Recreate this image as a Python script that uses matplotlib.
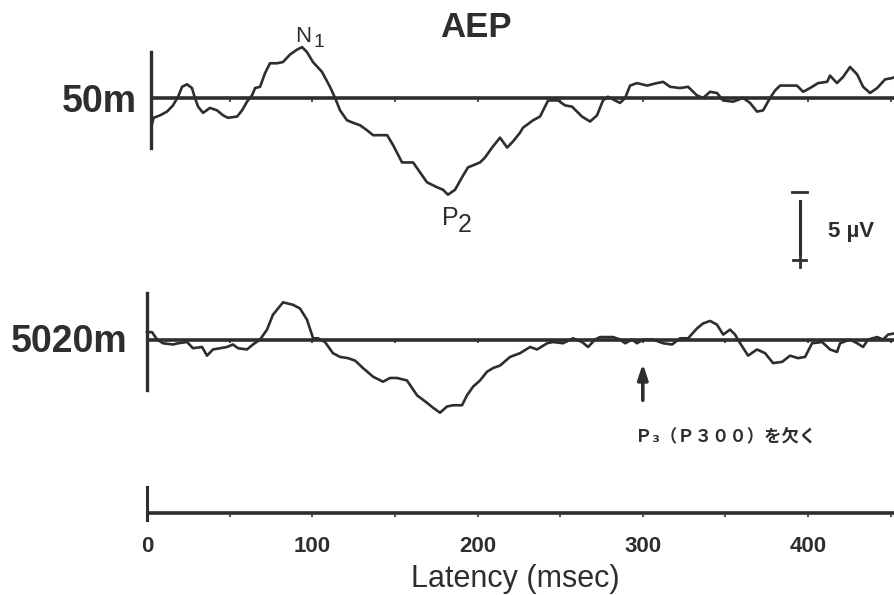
import numpy as np
import matplotlib
matplotlib.use('Agg')
import matplotlib.pyplot as plt

# ---- data: latency (ms) and amplitude (uV, negative up) ----
t_50m = [3, 4, 7.9, 12.1, 15.7, 18.8, 21.2, 24.2, 27.2, 29.0, 30.9, 33.9, 38.1, 42.4, 46.0, 49.0,
         54.5, 57.5, 60.5, 63.5, 65.4, 68.4, 71.4, 74.4, 78.7, 82.3, 86.5, 90.8, 93.8, 96.8,
         100.4, 105.9, 110.7, 113.8, 116.8, 121.0, 124.7, 128.9, 133.1, 136.8, 145.3, 148.9,
         154.3, 161.0, 165.2, 169.4, 175.5, 179.1, 182.1, 186.4, 190.6, 194.2, 201.5, 204.5,
         208.8, 213.6, 217.9, 221.5, 225.7, 227.5, 233.6, 237.8, 242.7, 248.7, 253.0, 257.2,
         263.2, 268.1, 272.3, 275.9, 278.9, 283.2, 286.2, 289.3, 292.3, 296.5, 302.6, 308.6,
         312.3, 316.5, 322.5, 327.4, 332.8, 336.5, 340.7, 344.9, 348.6, 354.6, 360.7, 364.9,
         369.1, 372.8, 377.0, 380.0, 383.1, 393.3, 397.0, 401.2, 406.1, 411.5, 413.3, 417.5,
         421.2, 425.4, 429.7, 433.3, 437.5, 441.8, 446.6, 450.8, 452.6]
a_50m = [2.1, 1.6, 1.4, 1.1, 0.6, -0.1, -0.9, -1.1, -0.8, 0.0, 0.7, 1.2, 0.8, 1.0, 1.4, 1.6,
         1.5, 1.0, 0.3, -0.2, -0.8, -0.9, -2.0, -2.8, -2.8, -2.9, -3.5, -3.9, -4.1, -3.7,
         -2.9, -2.1, -0.9, 0.0, 1.0, 1.8, 2.0, 2.2, 2.6, 3.0, 3.0, 3.8,
         5.2, 5.2, 6.0, 6.8, 7.2, 7.4, 7.8, 7.4, 6.4, 5.6, 5.2, 4.8,
         4.0, 3.2, 4.0, 3.5, 2.8, 2.4, 1.8, 1.5, 0.2, 0.2, 0.6, 0.7,
         1.5, 1.9, 1.4, 0.2, -0.1, 0.2, 0.4, 0.0, -1.0, -1.2, -1.0, -1.2,
         -1.3, -0.9, -0.8, -0.9, -0.2, 0.0, -0.5, -0.4, 0.2, 0.3, 0.0, 0.4,
         1.1, 1.0, 0.0, -0.6, -1.0, -1.0, -0.5, -0.8, -1.2, -1.3, -1.8, -1.2,
         -1.7, -2.5, -1.9, -0.9, -0.4, -0.8, -1.5, -1.6, -1.7]

t_5020m = [0, 3.0, 6.1, 9.7, 15.7, 18.8, 24.2, 27.8, 33.3, 36.3, 39.9, 44.2, 48.4, 52.0, 55.1,
           60.5, 64.1, 68.4, 72.6, 76.2, 82.3, 88.4, 92.6, 96.8, 100.5, 103.5, 107.7, 112.5,
           116.8, 121.6, 125.9, 130.7, 136.8, 142.8, 147.0, 151.3, 157.3, 163.4, 169.4, 173.1,
           177.3, 181.5, 185.2, 190.6, 193.6, 197.3, 201.5, 205.7, 209.4, 213.6, 219.7, 225.7,
           231.8, 236.0, 242.1, 245.7, 251.7, 257.8, 263.2, 266.9, 271.1, 274.1, 282.0, 286.2,
           289.3, 293.5, 296.5, 300.2, 306.2, 312.3, 317.7, 322.5, 327.4, 332.8, 336.5, 340.7,
           344.9, 348.6, 352.8, 355.8, 358.9, 363.7, 369.1, 374.0, 378.8, 384.3, 389.1, 393.9,
           398.2, 402.4, 408.5, 413.3, 417.5, 419.4, 425.4, 429.7, 433.3, 436.3, 441.8, 445.4,
           448.4, 452.6]
a_5020m = [-0.6, -0.6, 0.0, 0.3, 0.4, 0.3, 0.2, 0.7, 0.6, 1.3, 0.8, 0.7, 0.6, 0.4, 0.7,
           0.8, 0.4, 0.0, -0.8, -2.0, -3.0, -2.8, -2.5, -1.6, -0.1, -0.1, 0.2, 1.1,
           1.4, 1.5, 1.7, 2.3, 3.0, 3.4, 3.1, 3.1, 3.3, 4.5, 5.1, 5.5,
           5.9, 5.4, 5.3, 5.3, 4.5, 3.8, 3.3, 2.6, 2.3, 2.1, 1.4, 1.1,
           0.6, 0.8, 0.3, 0.2, 0.3, -0.1, 0.2, 0.6, 0.0, -0.2, -0.2, 0.0,
           0.3, 0.0, 0.3, 0.0, 0.0, 0.3, 0.4, -0.1, -0.1, -0.9, -1.3, -1.5,
           -1.2, -0.4, -0.8, -0.4, 0.3, 1.3, 0.8, 1.1, 1.9, 1.8, 1.3, 1.5,
           1.4, 0.3, 0.2, 0.8, 1.0, 0.3, 0.0, 0.3, 0.6, 0.0, -0.2, 0.0,
           -0.4, -0.5]

tick_ms = [0, 100, 200, 300, 400]
tick_labels = ['0', '100', '200', '300', '400']
altitudes = ['50m', '5020m']

# ---- layout (ms across, uV down) ----
X0, X1 = -88.96, 452.6
Y_TOP, Y_BOT = -7.90, 40.08
OFF2 = 19.48      # offset of lower trace
OFF_AX = 33.47    # offset of time scale
ink = '#2e2e2e'
minor = np.arange(50, 451, 50)

fig = plt.figure(figsize=(8.95, 5.95), dpi=100)
ax = fig.add_axes([0, 0, 1, 1])
ax.set_xlim(X0, X1)
ax.set_ylim(Y_BOT, Y_TOP)
ax.axis('off')

# baselines with small 50 ms ticks
for off, x0 in [(0, 2.5), (OFF2, 0), (OFF_AX, 0)]:
    ax.plot([x0, X1], [off, off], color=ink, lw=2.6, solid_capstyle='butt')
    ax.vlines(minor, off, off + 0.3, color=ink, lw=1.2)

# vertical bars at time zero
ax.plot([2.5, 2.5], [-3.7, 4.0], color=ink, lw=2.4)
ax.plot([0, 0], [OFF2 - 3.75, OFF2 + 4.05], color=ink, lw=2.4)
ax.plot([0, 0], [OFF_AX - 2.1, OFF_AX + 0.55], color=ink, lw=2.2)

# traces
ax.plot(t_50m, a_50m, color=ink, lw=1.9)
ax.plot(t_5020m, np.array(a_5020m) + OFF2, color=ink, lw=1.9)

# labels
lab_font = dict(family='Liberation Sans', color=ink)
ax.text(-6.0, 1.13, altitudes[0], ha='right', va='baseline', fontsize=27, fontweight='bold', **lab_font)
ax.text(-11.5, OFF2 + 0.98, altitudes[1], ha='right', va='baseline', fontsize=27, fontweight='bold', **lab_font)
ax.text(199, -4.92, 'AEP', ha='center', va='baseline', fontsize=25, fontweight='bold', **lab_font)
ax.text(89.6, -4.52, 'N', ha='left', va='baseline', fontsize=16, **lab_font)
ax.text(101, -4.11, '1', ha='left', va='baseline', fontsize=14, **lab_font)
ax.text(178.5, 10.24, 'P', ha='left', va='baseline', fontsize=18, **lab_font)
ax.text(188.2, 10.8, '2', ha='left', va='baseline', fontsize=18, **lab_font)

# 5 uV scale bar
ax.plot([390.5, 399.5], [7.6, 7.6], color=ink, lw=2.0)
ax.plot([395, 395], [8.3, 12.6], color=ink, lw=2.2)
ax.plot([391, 399], [13.1, 13.1], color=ink, lw=2.0)
ax.plot([395, 395], [12.7, 13.6], color=ink, lw=2.0)
ax.text(412, 11.2, '5 µV', ha='left', va='baseline', fontsize=16, fontweight='bold', **lab_font)

# missing P3 arrow and note
ax.annotate('', xy=(300, 21.2), xytext=(300, 24.6),
            arrowprops=dict(arrowstyle='-|>,head_length=0.9,head_width=0.3', color=ink, lw=2.6))
ax.text(350.4, 27.7, 'Ｐ₃（Ｐ３００）を欠く', ha='center', va='baseline', fontsize=12.5,
        fontweight='bold', family=['Noto Sans CJK JP', 'DejaVu Sans'], color=ink)

# time scale labels
for t, s in zip(tick_ms, tick_labels):
    ax.text(t, 36.6, s, ha='center', va='baseline', fontsize=16, fontweight='bold', **lab_font)
ax.text(222.7, 39.4, 'Latency (msec)', ha='center', va='baseline', fontsize=22, **lab_font)

fig.savefig('out.png', dpi=100, facecolor='white')
